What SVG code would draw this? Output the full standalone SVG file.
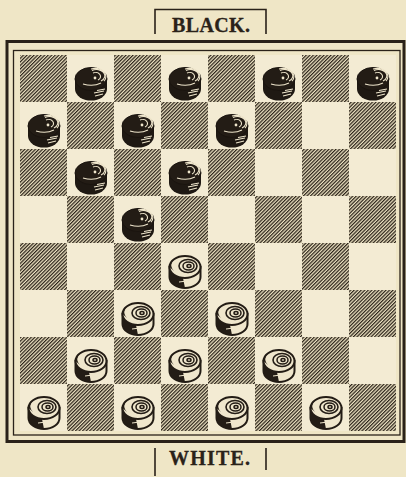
<svg xmlns="http://www.w3.org/2000/svg" xmlns:xlink="http://www.w3.org/1999/xlink" width="406" height="477" viewBox="0 0 406 477">
<style>
.ink{stroke:#2a2219;fill:none}
.lbl{font-family:"Liberation Serif","Times New Roman",serif;font-weight:bold;font-size:20px;fill:#2a2219;stroke:#2a2219;stroke-width:0.3}
.dark{fill:url(#hatch)}
.light{fill:#f3ebd3}
</style>
<defs>
<pattern id="hatch" width="2.5" height="2.5" patternUnits="userSpaceOnUse" patternTransform="rotate(45)">
<rect width="2.5" height="2.5" fill="#ece2c2"/>
<line x1="0.6" y1="-1" x2="0.6" y2="4" stroke="#2a2219" stroke-width="1.25"/>
</pattern>
<g id="bp">
<path d="M-16,0 V10 A16,11.5 0 0 0 16,10 V0 Z" fill="#1f1913"/>
<ellipse cx="0" cy="0" rx="16" ry="11.5" fill="#231c15" stroke="#1a140f" stroke-width="1"/>
<g fill="none" stroke="#efe6cc" stroke-width="1.1">
<path d="M2,-6 A5,4 0 0 1 7,1"/>
<path d="M1,-8.5 A8,6 0 0 1 10,2"/>
<path d="M0,-10 A11,8 0 0 1 13,2"/>
<path d="M-8,5 Q2,8 10,4"/>
<path d="M3,14 L13,12"/>
<path d="M4,17 L12,15"/>
<path d="M6,11.5 L14,10"/>
</g>
<circle cx="4" cy="-1" r="1.4" fill="#efe6cc"/>
</g>
<g id="wp">
<path d="M-15.5,0 V10 A15.5,11 0 0 0 15.5,10 V0 Z" fill="#efe6cc" stroke="#231c15" stroke-width="2"/>
<path d="M-15.5,0 V10 A15.5,11 0 0 0 0,21 L-2,11 Z" fill="#231c15"/>
<ellipse cx="0" cy="0" rx="15.5" ry="11" fill="#efe6cc" stroke="#231c15" stroke-width="2"/>
<path d="M-15.5,0 A15.5,11 0 0 1 -4,-10.5 A12,9 0 0 0 -11,4 Z" fill="#231c15"/>
<g fill="none" stroke="#231c15">
<ellipse cx="3" cy="-1" rx="9" ry="6.5" stroke-width="1.6"/>
<ellipse cx="3.5" cy="-1" rx="5.5" ry="4" stroke-width="1.5"/>
<ellipse cx="4" cy="-1" rx="2" ry="1.5" stroke-width="1.5"/>
<path d="M-6,15 L2,14" stroke="#efe6cc" stroke-width="1"/>
</g>
</g>
</defs>
<rect x="0" y="0" width="406" height="477" fill="#efe6c6"/>

<g id="board">
<rect x="20" y="55" width="376" height="376" class="light"/>
<g id="dark-squares" class="dark">
<rect x="20" y="55" width="47" height="47"/><rect x="114" y="55" width="47" height="47"/><rect x="208" y="55" width="47" height="47"/><rect x="302" y="55" width="47" height="47"/>
<rect x="67" y="102" width="47" height="47"/><rect x="161" y="102" width="47" height="47"/><rect x="255" y="102" width="47" height="47"/><rect x="349" y="102" width="47" height="47"/>
<rect x="20" y="149" width="47" height="47"/><rect x="114" y="149" width="47" height="47"/><rect x="208" y="149" width="47" height="47"/><rect x="302" y="149" width="47" height="47"/>
<rect x="67" y="196" width="47" height="47"/><rect x="161" y="196" width="47" height="47"/><rect x="255" y="196" width="47" height="47"/><rect x="349" y="196" width="47" height="47"/>
<rect x="20" y="243" width="47" height="47"/><rect x="114" y="243" width="47" height="47"/><rect x="208" y="243" width="47" height="47"/><rect x="302" y="243" width="47" height="47"/>
<rect x="67" y="290" width="47" height="47"/><rect x="161" y="290" width="47" height="47"/><rect x="255" y="290" width="47" height="47"/><rect x="349" y="290" width="47" height="47"/>
<rect x="20" y="337" width="47" height="47"/><rect x="114" y="337" width="47" height="47"/><rect x="208" y="337" width="47" height="47"/><rect x="302" y="337" width="47" height="47"/>
<rect x="67" y="384" width="47" height="47"/><rect x="161" y="384" width="47" height="47"/><rect x="255" y="384" width="47" height="47"/><rect x="349" y="384" width="47" height="47"/>
</g>
<rect x="13.5" y="50.5" width="386.5" height="384.5" class="ink" stroke-width="1.3"/>
<rect x="7" y="41.5" width="397" height="400" class="ink" stroke-width="3"/>
</g>

<g id="black-pieces">
<use id="b1" xlink:href="#bp" x="91" y="79"/>
<use id="b2" xlink:href="#bp" x="185" y="79"/>
<use id="b3" xlink:href="#bp" x="279" y="79"/>
<use id="b4" xlink:href="#bp" x="373" y="79"/>
<use id="b5" xlink:href="#bp" x="44" y="126"/>
<use id="b6" xlink:href="#bp" x="138" y="126"/>
<use id="b7" xlink:href="#bp" x="232" y="126"/>
<use id="b8" xlink:href="#bp" x="91" y="173"/>
<use id="b9" xlink:href="#bp" x="185" y="173"/>
<use id="b10" xlink:href="#bp" x="138" y="220"/>
</g>
<g id="white-pieces">
<use id="w1" xlink:href="#wp" x="185" y="267"/>
<use id="w2" xlink:href="#wp" x="138" y="314"/>
<use id="w3" xlink:href="#wp" x="232" y="314"/>
<use id="w4" xlink:href="#wp" x="91" y="361"/>
<use id="w5" xlink:href="#wp" x="185" y="361"/>
<use id="w6" xlink:href="#wp" x="279" y="361"/>
<use id="w7" xlink:href="#wp" x="44" y="408"/>
<use id="w8" xlink:href="#wp" x="138" y="408"/>
<use id="w9" xlink:href="#wp" x="232" y="408"/>
<use id="w10" xlink:href="#wp" x="326" y="408"/>
</g>

<g id="label-black">
<path d="M155,34 V9.5 H266 V34" class="ink" stroke-width="1.6"/>
<text x="172" y="32" class="lbl" textLength="78" lengthAdjust="spacing">BLACK.</text>
</g>
<g id="label-white">
<path d="M155,448 V476 M266,448 V470" class="ink" stroke-width="1.6"/>
<text x="169" y="465" class="lbl" textLength="81" lengthAdjust="spacing">WHITE.</text>
</g>
</svg>
